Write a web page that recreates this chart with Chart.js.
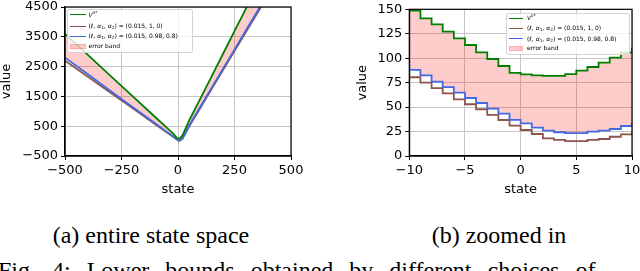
<!DOCTYPE html>
<html><head><meta charset="utf-8">
<script src="https://cdn.jsdelivr.net/npm/chart.js@4.4.0/dist/chart.umd.min.js"></script>
<style>
html,body{margin:0;padding:0;background:#fff;}
body{width:640px;height:271px;overflow:hidden;position:relative;}
canvas{position:absolute;top:0;}
.leg{position:absolute;box-sizing:border-box;background:rgba(255,255,255,0.8);border:1px solid #d4d4d4;border-radius:2px;font-family:'DejaVu Sans';font-size:6px;color:#000;}
.hl{position:absolute;height:0;border-top:1.6px solid;}
.hb{position:absolute;height:5px;background:rgba(255,0,0,0.2);border:0.8px solid rgba(255,120,120,0.35);box-sizing:border-box;}
.txt{position:absolute;line-height:8px;white-space:nowrap;}
.txt sub{font-size:4.3px;vertical-align:-1.3px;line-height:0;}
.txt sup{font-size:4.3px;vertical-align:2.6px;line-height:0;}
.cap{position:absolute;font-family:'Liberation Serif';font-size:24px;line-height:24px;white-space:nowrap;color:#000;}
</style></head>
<body>
<canvas id="c1" width="310" height="215" style="left:0"></canvas>
<canvas id="c2" width="320" height="215" style="left:320px"></canvas>
<div class="leg" id="leg1" style="left:66.5px;top:9px;width:126px;height:44px"></div>
<div class="leg" id="leg2" style="left:506px;top:12.7px;width:124px;height:42.3px"></div>
<div class="cap" style="left:52.7px;top:223px">(a) entire state space</div>
<div class="cap" style="left:431.7px;top:223px">(b) zoomed in</div>
<div class="cap" style="left:-2px;top:258px;word-spacing:10px">Fig. 4: Lower bounds obtained by different choices of</div>
<script>
// ---- data ----
const leftStates = [-500, -400, -300, -200, -100, -50, -20, -10, -5, 0, 3, 5, 10, 20, 50, 100, 150, 200, 250, 300, 350, 400];
const leftVstar  = [3600, 2900, 2200, 1500, 800, 450, 240, 148, 113, 85, 82, 84, 106, 190, 700, 1440, 2190, 2940, 3690, 4440, 5190, 5940];
const leftBrown  = [2700, 2170, 1630, 1100, 560, 295, 135, 80.5, 52.9, 31, 16.4, 15.3, 22, 85, 500, 1130, 1760, 2390, 3020, 3650, 4280, 4910];
const leftBlue   = [2800, 2250, 1690, 1140, 590, 310, 145, 88, 59, 33, 24.3, 23.3, 34, 100, 530, 1170, 1800, 2440, 3070, 3710, 4340, 4980];

const rightStates = [-11, -10, -9, -8, -7, -6, -5, -4, -3, -2, -1, 0, 1, 2, 3, 4, 5, 6, 7, 8, 9, 10];
const rightVstar  = [156, 148.6, 140.8, 134.6, 127.1, 120.3, 113.5, 106, 99.2, 92, 85, 83.5, 82.5, 82, 82, 83.8, 87.3, 91, 95.4, 100.5, 105.7, 111];
const rightBrown  = [86, 80.5, 75, 69.5, 64.1, 58, 52.9, 47.8, 42, 36.8, 31, 26.6, 22.5, 18.1, 16.4, 15.3, 15.3, 16.4, 17.4, 19.7, 22.2, 25];
const rightBlue   = [93, 88, 82.5, 76, 70.5, 64.7, 59.3, 54.2, 48.4, 43.3, 37, 33.4, 29, 26, 24.3, 23.3, 23.3, 24.9, 26, 27.6, 30.7, 34];

const leftXTicks  = [-500, -250, 0, 250, 500];
const leftYTicks  = [-500, 500, 1500, 2500, 3500, 4500];
const rightXTicks = [-10, -5, 0, 5, 10];
const rightYTicks = [0, 25, 50, 75, 100, 125, 150];

const xTitle = 'state', yTitle = 'value';
const seriesLabels = ['V^{π*}', '(ℓ, α1, α2) = (0.015, 1, 0)', '(ℓ, α1, α2) = (0.015, 0.98, 0.8)', 'error band'];
const legendHtml = [
  '<i>V</i><sup><i>π</i>*</sup>',
  '(<i>ℓ</i>, <i>α</i><sub>1</sub>, <i>α</i><sub>2</sub>) = (0.015, 1, 0)',
  '(<i>ℓ</i>, <i>α</i><sub>1</sub>, <i>α</i><sub>2</sub>) = (0.015, 0.98, 0.8)',
  'error band'
];

const GREEN = '#008000', BROWN = '#8c564b', BLUE = '#4169e1', BAND = 'rgba(255,0,0,0.2)';
const FONT = {family: 'DejaVu Sans', size: 13, lineHeight: 1};
const fmt = v => String(v).replace('-', '\u2212');

const frame = {
  id: 'frame',
  afterDatasetsDraw(chart) {
    const {ctx, chartArea: a} = chart;
    ctx.save();
    ctx.strokeStyle = '#000';
    ctx.lineWidth = 1.2;
    ctx.strokeRect(a.left, a.top, a.right - a.left, a.bottom - a.top);
    ctx.restore();
  },
  afterDraw(chart, args, opts) {
    const {ctx, chartArea: a} = chart;
    ctx.save();
    ctx.fillStyle = '#000';
    ctx.font = '13px "DejaVu Sans"';
    ctx.textAlign = 'center';
    ctx.textBaseline = 'middle';
    ctx.fillText(xTitle, (a.left + a.right) / 2, opts.xTitleY);
    ctx.translate(opts.yTitleX, (a.top + a.bottom) / 2);
    ctx.rotate(-Math.PI / 2);
    ctx.fillText(yTitle, 0, 0);
    ctx.restore();
  }
};

function makeChart(id, states, v, br, bl, xr, yr, xt, yt, stepped, pad, yW, yTitleX) {
  const pts = arr => states.map((s, i) => ({x: s, y: arr[i]}));
  const lw = 1.8;
  return new Chart(document.getElementById(id), {
    type: 'line',
    data: {datasets: [
      {label: seriesLabels[0], data: pts(v), borderColor: GREEN, borderWidth: lw, pointRadius: 0, stepped: stepped,
       fill: {target: 2, above: BAND, below: BAND}, backgroundColor: BAND, order: 0},
      {label: seriesLabels[1], data: pts(br), borderColor: BROWN, borderWidth: lw, pointRadius: 0, stepped: stepped, fill: false, order: 2},
      {label: seriesLabels[2], data: pts(bl), borderColor: BLUE, borderWidth: lw, pointRadius: 0, stepped: stepped, fill: false, order: 1}
    ]},
    options: {
      responsive: false, animation: false, devicePixelRatio: 1,
      layout: {padding: pad},
      plugins: {legend: {display: false}, tooltip: {enabled: false}, filler: {drawTime: 'beforeDatasetsDraw'},
                frame: {xTitleY: 190, yTitleX: yTitleX}},
      scales: {
        x: {type: 'linear', min: xr[0], max: xr[1],
            afterBuildTicks: s => { s.ticks = xt.map(t => ({value: t})); },
            afterFit: s => { s.height = 59; s.paddingLeft = 0; s.paddingRight = 0; },
            grid: {color: '#c6c6c6', lineWidth: 1, tickLength: 4, tickColor: '#000', tickWidth: 1},
            border: {display: true, color: '#000', width: 1.2},
            ticks: {font: FONT, color: '#000', padding: 4, maxRotation: 0, autoSkip: false, callback: fmt},
            title: {display: false}},
        y: {type: 'linear', min: yr[0], max: yr[1],
            afterBuildTicks: s => { s.ticks = yt.map(t => ({value: t})); },
            afterFit: s => { s.width = yW; s.paddingTop = 0; s.paddingBottom = 0; },
            grid: {color: '#c6c6c6', lineWidth: 1, tickLength: 4, tickColor: '#000', tickWidth: 1},
            border: {display: true, color: '#000', width: 1.2},
            ticks: {font: FONT, color: '#000', padding: 3, autoSkip: false, callback: fmt},
            title: {display: false}}
      }
    },
    plugins: [frame]
  });
}

makeChart('c1', leftStates, leftVstar, leftBrown, leftBlue, [-500, 500], [-500, 4500], leftXTicks, leftYTicks, false,
          {left: 0, top: 7, right: 19, bottom: 0}, 65, 6.5);
makeChart('c2', rightStates, rightVstar, rightBrown, rightBlue, [-10, 10], [0, 150], rightXTicks, rightYTicks, true,
          {left: 0, top: 9.3, right: 8, bottom: 0}, 89.3, 42.7);

function buildLegend(id, rows, hx, hw, tx) {
  const el = document.getElementById(id);
  const cols = [GREEN, BROWN, BLUE, null];
  rows.forEach((cy, i) => {
    if (cols[i]) {
      const h = document.createElement('div');
      h.className = 'hl';
      h.style.cssText = `left:${hx}px;width:${hw}px;top:${cy - 0.8}px;border-color:${cols[i]}`;
      el.appendChild(h);
    } else {
      const b = document.createElement('div');
      b.className = 'hb';
      b.style.cssText = `left:${hx}px;width:${hw}px;top:${cy - 2.5}px`;
      el.appendChild(b);
    }
    const t = document.createElement('span');
    t.className = 'txt';
    t.style.cssText = `left:${tx}px;top:${cy - 4.5}px`;
    t.innerHTML = legendHtml[i];
    el.appendChild(t);
  });
}
buildLegend('leg1', [5, 16.7, 26.7, 36.7], 2.5, 16, 21);
buildLegend('leg2', [5.3, 15.3, 25.6, 34.6], 2, 14, 20);
</script>
</body></html>
